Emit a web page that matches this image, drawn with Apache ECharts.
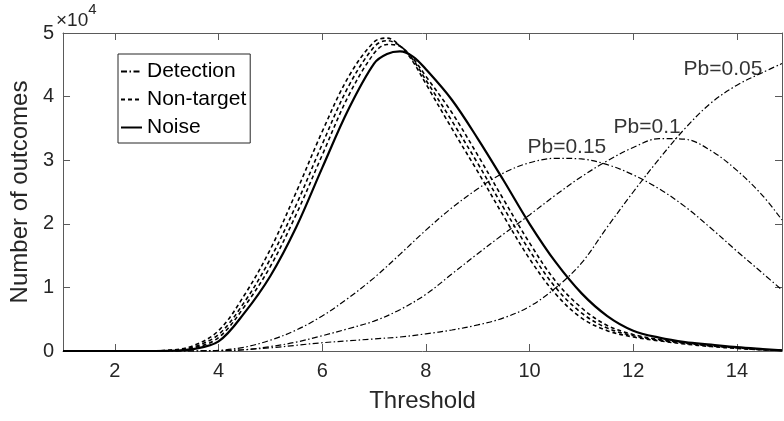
<!DOCTYPE html>
<html>
<head>
<meta charset="utf-8">
<script src="https://cdn.jsdelivr.net/npm/echarts@6/dist/echarts.min.js"></script>
<style>
html,body{margin:0;padding:0;background:#fff;}
#chart{width:784px;height:421px;}
</style>
</head>
<body>
<div id="chart"></div>
<script>
// Threshold values (x) for noise / non-target curves
var thresholdsFine = [1, 2, 2.5, 3, 3.5, 4, 4.5, 5, 5.5, 6, 6.5, 7, 7.25, 7.5, 7.75, 8, 8.5, 9, 9.5, 10, 10.5, 11, 11.5, 12, 12.5, 13, 13.5, 14, 14.5, 14.87];
// Threshold values (x) for detection curves
var thresholds = [1, 2, 2.5, 3, 3.5, 4, 4.5, 5, 5.5, 6, 6.5, 7, 7.5, 8, 8.5, 9, 9.5, 10, 10.5, 11, 11.5, 12, 12.5, 13, 13.5, 14, 14.5, 14.87];
// Number of outcomes
var noise = [0, 0, 0, 30, 300, 1500, 6000, 11800, 19500, 28800, 37900, 45200, 46700, 47100, 46300, 44300, 39500, 33400, 26800, 20000, 14000, 9100, 5500, 3200, 2100, 1400, 1000, 600, 300, 100];
var nonTarget1 = [0, 0, 0, 100, 800, 3200, 8800, 16000, 25000, 34500, 43000, 48600, 49200, 48000, 45500, 42000, 35000, 28200, 21200, 14500, 9000, 5200, 3200, 2200, 1600, 1100, 700, 400, 200, 100];
var nonTarget2 = [0, 0, 0, 70, 600, 2600, 7700, 14500, 23000, 32500, 41500, 47800, 48800, 48000, 45800, 42600, 36200, 29500, 22500, 15800, 10000, 6000, 3600, 2400, 1700, 1200, 800, 500, 200, 100];
var nonTarget3 = [0, 0, 0, 50, 450, 2100, 7000, 13300, 21500, 30800, 40000, 46800, 48200, 47900, 46000, 43200, 37500, 30800, 23800, 17000, 11000, 6800, 4000, 2600, 1800, 1300, 800, 500, 200, 100];
var detection015 = [0, 0, 0, 0, 0, 100, 600, 1700, 3300, 5500, 8300, 11500, 15200, 19000, 22500, 25500, 28000, 29600, 30300, 30200, 29300, 27700, 25500, 22700, 19300, 15700, 12200, 9600];
var detection010 = [0, 0, 0, 0, 0, 50, 200, 700, 1400, 2400, 3500, 4700, 6500, 8900, 12100, 15300, 18400, 21400, 24500, 27400, 29900, 32000, 33400, 33300, 31500, 28400, 24400, 20600];
var detection005 = [0, 0, 0, 0, 0, 50, 200, 500, 900, 1300, 1600, 1900, 2200, 2700, 3300, 4100, 5200, 7000, 9900, 13800, 19500, 25000, 30200, 35000, 39000, 41800, 43800, 45200];
// Pb labels
var pbLabels = ['Pb=0.15', 'Pb=0.1', 'Pb=0.05'];
var pbLabelX = [9.96, 11.62, 12.97];
var pbLabelY = [32100, 35200, 44300];
// Axis ticks
var xTicks = [2, 4, 6, 8, 10, 12, 14];

function pairs(xs, ys) { return xs.map(function (x, i) { return [x, ys[i]]; }); }

var FONT = 'Liberation Sans, Arial, Helvetica, sans-serif';
var AX = '#262626';
var FRAME = '#5a5a5a';

function lineSeries(name, xs, data, type, width) {
  return {
    type: 'line', name: name, data: pairs(xs, data), smooth: 0.35, showSymbol: false, symbol: 'none',
    lineStyle: { color: '#000', width: width, type: type }, itemStyle: { color: '#000' },
    animation: false, z: 3
  };
}

var dashDot = [6, 2.5, 1.5, 2.5];
var dashed = [4, 3];

var series = [
  lineSeries('Detection', thresholds, detection015, dashDot, 1.2),
  lineSeries('Detection', thresholds, detection010, dashDot, 1.2),
  lineSeries('Detection', thresholds, detection005, dashDot, 1.2),
  lineSeries('Non-target', thresholdsFine, nonTarget1, dashed, 1.6),
  lineSeries('Non-target', thresholdsFine, nonTarget2, dashed, 1.6),
  lineSeries('Non-target', thresholdsFine, nonTarget3, dashed, 1.6),
  lineSeries('Noise', thresholdsFine, noise, 'solid', 2.2),
  {
    type: 'scatter', name: 'labels', symbolSize: 0, silent: true, animation: false,
    data: pbLabels.map(function (t, i) { return { value: [pbLabelX[i], pbLabelY[i]], name: t }; }),
    label: { show: true, position: 'right', distance: 0, formatter: function (p) { return p.name; },
      color: '#000', fontSize: 21, fontFamily: FONT }
  }
];

var chart = echarts.init(document.getElementById('chart'), null, { renderer: 'canvas' });
chart.setOption({
  animation: false,
  backgroundColor: '#fff',
  title: {
    text: '{m|×10}{s|4}', left: 56, top: 2, padding: 0,
    textStyle: {
      fontWeight: 'normal', color: AX, fontFamily: FONT, fontSize: 19,
      rich: {
        m: { fontSize: 19, lineHeight: 28, verticalAlign: 'bottom', color: AX, fontFamily: FONT },
        s: { fontSize: 15, lineHeight: 15, verticalAlign: 'top', color: AX, fontFamily: FONT }
      }
    }
  },
  grid: { left: 57, right: 2, top: 33, bottom: 70 },
  legend: {
    data: ['Detection', 'Non-target', 'Noise'],
    orient: 'vertical', left: 118, top: 54,
    itemWidth: 21, itemHeight: 14, itemGap: 7,
    padding: [7, 4, 5, 2],
    borderColor: AX, borderWidth: 1, backgroundColor: '#fff',
    itemStyle: { opacity: 0 },
    textStyle: { fontSize: 21, lineHeight: 21, color: '#000', fontFamily: FONT },
    selectedMode: false
  },
  xAxis: [{
    type: 'value', min: 1, max: 14.87, position: 'bottom',
    name: 'Threshold', nameLocation: 'middle', nameGap: 38,
    nameTextStyle: { fontSize: 24, color: AX, fontFamily: FONT },
    axisLine: { show: true, onZero: false, lineStyle: { color: FRAME, width: 1 } },
    axisTick: { show: true, inside: true, length: 7, customValues: xTicks, lineStyle: { color: FRAME } },
    axisLabel: { customValues: xTicks, fontSize: 20, color: AX, fontFamily: FONT, margin: 10 },
    splitLine: { show: false }
  }, {
    type: 'value', min: 1, max: 14.87, position: 'top',
    axisLine: { show: true, onZero: false, lineStyle: { color: FRAME, width: 1 } },
    axisTick: { show: true, inside: true, length: 7, customValues: xTicks, lineStyle: { color: FRAME } },
    axisLabel: { show: false },
    splitLine: { show: false }
  }],
  yAxis: [{
    type: 'value', min: 0, max: 50000, interval: 10000, position: 'left',
    name: 'Number of outcomes', nameLocation: 'middle', nameGap: 26,
    nameTextStyle: { fontSize: 24, color: AX, fontFamily: FONT },
    axisLine: { show: true, onZero: false, lineStyle: { color: FRAME, width: 1 } },
    axisTick: { show: true, inside: true, length: 7, lineStyle: { color: FRAME } },
    axisLabel: { fontSize: 20, color: AX, fontFamily: FONT, margin: 9,
      formatter: function (v) { return String(v / 10000); } },
    splitLine: { show: false }
  }, {
    type: 'value', min: 0, max: 50000, interval: 10000, position: 'right',
    axisLine: { show: true, onZero: false, lineStyle: { color: FRAME, width: 1 } },
    axisTick: { show: true, inside: true, length: 7, lineStyle: { color: FRAME } },
    axisLabel: { show: false },
    splitLine: { show: false }
  }],
  series: series
});
</script>
</body>
</html>
